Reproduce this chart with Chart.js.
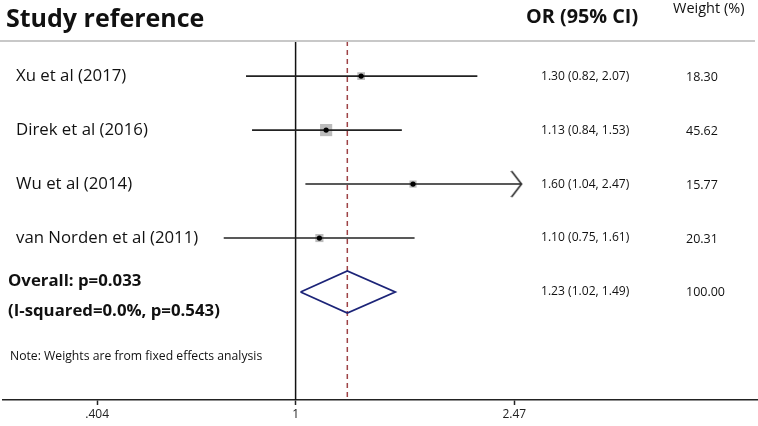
<!DOCTYPE html>
<html>
<head>
<meta charset="utf-8">
<script src="https://cdn.jsdelivr.net/npm/chart.js@4.4.0/dist/chart.umd.min.js"></script>
<style>
  html, body { margin: 0; padding: 0; background: #fff; }
  #wrap { width: 758px; height: 426px; }
</style>
</head>
<body>
<div id="wrap"><canvas id="forest"></canvas></div>
<script>
// studies, top to bottom
const studies = ["Xu et al (2017)", "Direk et al (2016)", "Wu et al (2014)", "van Norden et al (2011)"];
const orValues = [1.30, 1.13, 1.60, 1.10];
const ciLow = [0.82, 0.84, 1.04, 0.75];
const ciHigh = [2.07, 1.53, 2.47, 1.61];
const weights = [18.30, 45.62, 15.77, 20.31];

// pooled (fixed effects)
const overallOR = 1.23;
const overallLow = 1.02;
const overallHigh = 1.49;
const overallWeight = 100.00;
const overallText = ["Overall: p=0.033", "(I-squared=0.0%, p=0.543)"];

// x axis: labels and where the ticks sit in the picture
const tickLabels = [".404", "1", "2.47"];
const tickValues = [0.452, 1, 2.40];
const axisCap = 2.47; // CI cut here, drawn with an arrow

const rows = studies.map((s, i) => i + 1);
const overallRow = studies.length + 1;
const yTop = 0.35, yBottom = 7.0;
const diamondHalf = 0.39;

const fmt = v => v.toFixed(2);

// arrow head for a clipped CI
function makeArrow() {
  const c = document.createElement("canvas");
  c.width = 22; c.height = 28;
  const g = c.getContext("2d");
  g.strokeStyle = "#222";
  g.lineWidth = 1.5;
  g.beginPath();
  g.moveTo(1, 1);
  g.lineTo(11, 14);
  g.lineTo(1, 27);
  g.stroke();
  return c;
}
const arrow = makeArrow();

const datasets = [];

// study point estimates (black dots)
datasets.push({
  type: "scatter",
  data: orValues.map((v, i) => ({ x: v, y: rows[i] })),
  pointStyle: "circle",
  pointRadius: 2.6,
  backgroundColor: "#000",
  borderWidth: 0,
  order: 0
});

// confidence intervals
studies.forEach((s, i) => {
  const clipped = ciHigh[i] >= axisCap;
  datasets.push({
    type: "line",
    data: [{ x: ciLow[i], y: rows[i] }, { x: Math.min(ciHigh[i], axisCap), y: rows[i] }],
    borderColor: "#222",
    borderWidth: 1.6,
    pointRadius: ctx => (clipped && ctx.dataIndex === 1 ? 13 : 0),
    pointStyle: arrow,
    order: 1
  });
});

// weight boxes, area ~ weight
datasets.push({
  type: "scatter",
  data: orValues.map((v, i) => ({ x: v, y: rows[i] })),
  pointStyle: "rect",
  pointRadius: weights.map(w => 1.8 * Math.sqrt(w) / (2 * Math.SQRT1_2)),
  backgroundColor: "#bcbcbc",
  borderWidth: 0,
  order: 2
});

// overall diamond
datasets.push({
  type: "line",
  data: [
    { x: overallLow, y: overallRow },
    { x: overallOR, y: overallRow - diamondHalf },
    { x: overallHigh, y: overallRow },
    { x: overallOR, y: overallRow + diamondHalf },
    { x: overallLow, y: overallRow }
  ],
  borderColor: "#1c2478",
  borderWidth: 1.8,
  pointRadius: 0,
  fill: false,
  order: 3
});

// dashed line at the pooled OR
datasets.push({
  type: "line",
  data: [{ x: overallOR, y: yTop }, { x: overallOR, y: yBottom }],
  borderColor: "#9e4246",
  borderWidth: 1.5,
  borderDash: [5, 4],
  pointRadius: 0,
  order: 4
});

// line of no effect
datasets.push({
  type: "line",
  data: [{ x: 1, y: yTop }, { x: 1, y: yBottom }],
  borderColor: "#111",
  borderWidth: 1.5,
  pointRadius: 0,
  order: 5
});

// texts
const textPlugin = {
  id: "forestText",
  afterDraw(chart) {
    const ctx = chart.ctx;
    const y = chart.scales.y;
    const area = chart.chartArea;
    const fam = "'Open Sans', 'Noto Sans', sans-serif";
    ctx.save();

    // header rule
    ctx.strokeStyle = "#c8c8c8";
    ctx.lineWidth = 2;
    ctx.beginPath();
    ctx.moveTo(area.left - 3, area.top);
    ctx.lineTo(area.right - 2, area.top);
    ctx.stroke();

    ctx.fillStyle = "#111";
    ctx.textAlign = "left";
    ctx.textBaseline = "alphabetic";
    ctx.font = "bold 25px " + fam;
    ctx.fillText("Study reference", 6, 27);
    ctx.font = "bold 19.8px " + fam;
    ctx.fillText("OR (95% CI)", 526, 23);
    ctx.font = "14.5px " + fam;
    ctx.fillText("Weight (%)", 673, 13);

    ctx.textBaseline = "middle";
    studies.forEach((s, i) => {
      const py = y.getPixelForValue(rows[i]);
      ctx.font = "16.8px " + fam;
      ctx.fillText(s, 16, py);
      ctx.font = "12.1px " + fam;
      ctx.fillText(fmt(orValues[i]) + " (" + fmt(ciLow[i]) + ", " + fmt(ciHigh[i]) + ")", 541, py);
      ctx.font = "12.5px " + fam;
      ctx.fillText(fmt(weights[i]), 686, py + 1);
    });

    const oy = y.getPixelForValue(overallRow);
    ctx.font = "12.1px " + fam;
    ctx.fillText(fmt(overallOR) + " (" + fmt(overallLow) + ", " + fmt(overallHigh) + ")", 541, oy);
    ctx.font = "12.5px " + fam;
    ctx.fillText(fmt(overallWeight), 686, oy);
    ctx.font = "bold 16.8px " + fam;
    ctx.fillText(overallText[0], 8, oy - 11);
    ctx.fillText(overallText[1], 8, oy + 19);
    ctx.font = "12.2px " + fam;
    ctx.fillText("Note: Weights are from fixed effects analysis", 10, oy + 64);
    ctx.restore();
  }
};

new Chart(document.getElementById("forest"), {
  type: "scatter",
  data: { datasets },
  options: {
    responsive: true,
    maintainAspectRatio: false,
    animation: false,
    events: [],
    layout: { autoPadding: false, padding: { top: 41, left: 3, right: 1, bottom: 0 } },
    plugins: { legend: { display: false }, tooltip: { enabled: false } },
    scales: {
      x: {
        type: "logarithmic",
        bounds: "data",
        min: 0.31,
        max: 6.34,
        afterBuildTicks: scale => { scale.ticks = tickValues.map(v => ({ value: v })); },
        afterFit: scale => { scale.height = 26; },
        grid: { drawOnChartArea: false, drawTicks: true, tickLength: 5, color: "#222", tickWidth: 1.5 },
        border: { color: "#222", width: 1.5 },
        ticks: {
          autoSkip: false,
          maxRotation: 0,
          padding: 2,
          color: "#222",
          font: { family: "'Open Sans', sans-serif", size: 12 },
          callback: (v, i) => tickLabels[i]
        }
      },
      y: { type: "linear", reverse: true, min: yTop, max: yBottom, display: false }
    }
  },
  plugins: [textPlugin]
});
</script>
</body>
</html>
